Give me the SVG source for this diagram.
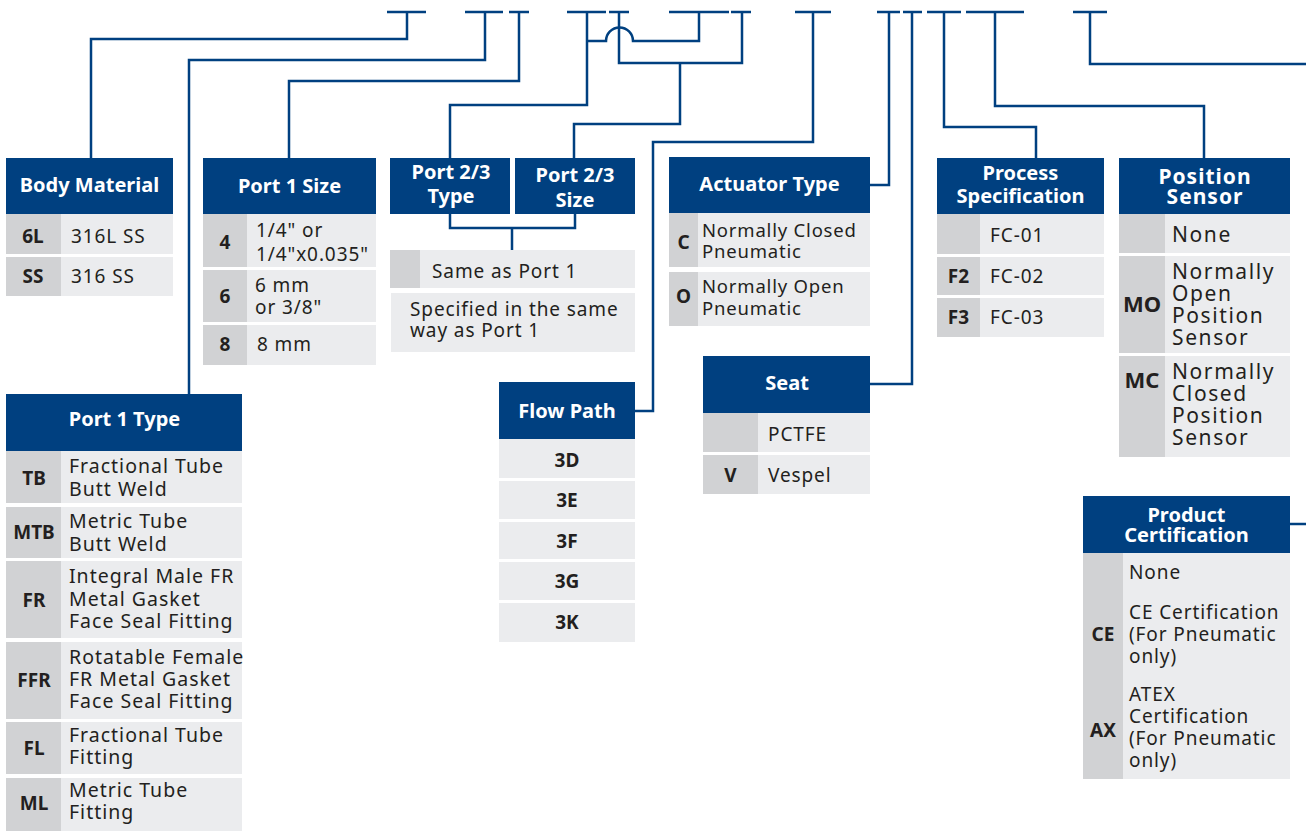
<svg xmlns="http://www.w3.org/2000/svg" width="1306" height="831" viewBox="0 0 1306 831">
<style>
.hd{fill:#004080}
.cd{fill:#D1D2D4}
.ds{fill:#EBECEE}
.ht{font-family:"Noto Sans","Open Sans",sans-serif;font-weight:bold;font-size:20px;fill:#fff;text-anchor:middle}
.c{font-family:"Noto Sans","Open Sans",sans-serif;font-weight:bold;font-size:19px;fill:#231F20;text-anchor:middle}
.t{font-family:"Noto Sans","Open Sans",sans-serif;font-size:19px;letter-spacing:0.9px;fill:#231F20}
.t2{font-family:"Noto Sans","Open Sans",sans-serif;font-size:19.5px;letter-spacing:1px;fill:#231F20}
.t3{font-family:"Noto Sans","Open Sans",sans-serif;font-size:21px;letter-spacing:1.6px;fill:#231F20}
.ln{fill:none;stroke:#004080;stroke-width:2.5}
</style>
<rect width="1306" height="831" fill="#fff"/>
<g id="connectors" class="ln">
<path d="M387,12H426M407,12V39H91V158"/>
<path d="M465,12H503M485,12V60H189V394"/>
<path d="M509,12H529M519,12V81H289V158"/>
<path d="M567,12H606M587,12V105H450V158"/>
<path d="M609,12H629M619,12V63H742V12M731,12H751"/>
<path d="M680,63V124H574V158"/>
<path d="M587,41H606A13.5,13.5 0 0 1 633,41H699V12M669,12H729"/>
<path d="M795,12H831M813,12V142H653V411H635"/>
<path d="M877,12H900M889,12V185H870"/>
<path d="M903,12H922M912,12V384H870"/>
<path d="M927,12H961M944,12V127H1036V158"/>
<path d="M966,12H1024M995,12V106H1204V158"/>
<path d="M1073,12H1107M1090,12V64H1306"/>
<path d="M1290,524H1306"/>
<path d="M450,214V228H575V214M512,228V250"/>
</g>
<g id="body-material">
<rect class="hd" x="6" y="158" width="167" height="56"/>
<text class="ht" x="89.5" y="192">Body Material</text>
<rect class="cd" x="6" y="214" width="55" height="40"/><rect class="ds" x="61" y="214" width="112" height="40"/>
<rect class="cd" x="6" y="257" width="55" height="39"/><rect class="ds" x="61" y="257" width="112" height="39"/>
<text class="c" x="33" y="243">6L</text><text class="t" x="71" y="243">316L SS</text>
<text class="c" x="33" y="283">SS</text><text class="t" x="71" y="283">316 SS</text>
</g>
<g id="port1-size">
<rect class="hd" x="203" y="158" width="173" height="56"/>
<text class="ht" x="289.5" y="193">Port 1 Size</text>
<rect class="cd" x="203" y="214" width="44" height="53"/><rect class="ds" x="247" y="214" width="129" height="53"/>
<rect class="cd" x="203" y="270" width="44" height="52"/><rect class="ds" x="247" y="270" width="129" height="52"/>
<rect class="cd" x="203" y="325" width="44" height="40"/><rect class="ds" x="247" y="325" width="129" height="40"/>
<text class="c" x="225" y="249">4</text><text class="t" x="256" y="237">1/4" or</text><text class="t" x="256" y="261">1/4"x0.035"</text>
<text class="c" x="225" y="303">6</text><text class="t" x="255" y="292">6 mm</text><text class="t" x="255" y="314">or 3/8"</text>
<text class="c" x="225" y="351">8</text><text class="t" x="257" y="351">8 mm</text>
</g>
<g id="port23">
<rect class="hd" x="390" y="158" width="120" height="56"/>
<text class="ht" x="451" y="179">Port 2/3</text><text class="ht" x="451" y="203">Type</text>
<rect class="hd" x="515" y="158" width="120" height="56"/>
<text class="ht" x="575" y="182">Port 2/3</text><text class="ht" x="575" y="207">Size</text>
<rect class="cd" x="390" y="250" width="30" height="38"/><rect class="ds" x="420" y="250" width="215" height="38"/>
<rect class="ds" x="391" y="293" width="244" height="59"/>
<text class="t" x="432" y="278">Same as Port 1</text>
<text class="t" x="410" y="316">Specified in the same</text><text class="t" x="410" y="337">way as Port 1</text>
</g>
<g id="actuator-type">
<rect class="hd" x="669" y="157" width="201" height="56"/>
<text class="ht" x="769.5" y="191">Actuator Type</text>
<rect class="cd" x="669" y="213" width="29" height="54"/><rect class="ds" x="698" y="213" width="172" height="54"/>
<rect class="cd" x="669" y="272" width="29" height="54"/><rect class="ds" x="698" y="272" width="172" height="54"/>
<text class="c" x="683.5" y="249">C</text><text class="t" x="702" y="237" style="font-size:18.5px;letter-spacing:0.8px">Normally Closed</text><text class="t" x="702" y="258" style="font-size:18.5px;letter-spacing:0.8px">Pneumatic</text>
<text class="c" x="683.5" y="303">O</text><text class="t" x="702" y="293" style="font-size:18.5px;letter-spacing:0.8px">Normally Open</text><text class="t" x="702" y="315" style="font-size:18.5px;letter-spacing:0.8px">Pneumatic</text>
</g>
<g id="seat">
<rect class="hd" x="703" y="356" width="167" height="57"/>
<text class="ht" x="787" y="390">Seat</text>
<rect class="cd" x="703" y="413" width="55" height="39"/><rect class="ds" x="758" y="413" width="112" height="39"/>
<rect class="cd" x="703" y="455" width="55" height="39"/><rect class="ds" x="758" y="455" width="112" height="39"/>
<text class="t" x="768" y="441">PCTFE</text>
<text class="c" x="730.5" y="482">V</text><text class="t" x="768" y="482">Vespel</text>
</g>
<g id="flow-path">
<rect class="hd" x="499" y="382" width="136" height="57"/>
<text class="ht" x="567" y="418">Flow Path</text>
<rect class="ds" x="499" y="439" width="136" height="39"/>
<rect class="ds" x="499" y="481" width="136" height="38"/>
<rect class="ds" x="499" y="522" width="136" height="37"/>
<rect class="ds" x="499" y="562" width="136" height="38"/>
<rect class="ds" x="499" y="603" width="136" height="39"/>
<text class="c" x="567" y="467">3D</text>
<text class="c" x="567" y="507">3E</text>
<text class="c" x="567" y="548">3F</text>
<text class="c" x="567" y="588">3G</text>
<text class="c" x="567" y="629">3K</text>
</g>
<g id="process-specification">
<rect class="hd" x="937" y="158" width="167" height="56"/>
<text class="ht" x="1020.5" y="180">Process</text><text class="ht" x="1020.5" y="203">Specification</text>
<rect class="cd" x="937" y="214" width="43" height="40"/><rect class="ds" x="980" y="214" width="124" height="40"/>
<rect class="cd" x="937" y="257" width="43" height="38"/><rect class="ds" x="980" y="257" width="124" height="38"/>
<rect class="cd" x="937" y="298" width="43" height="39"/><rect class="ds" x="980" y="298" width="124" height="39"/>
<text class="t" x="990" y="242">FC-01</text>
<text class="c" x="958.5" y="283">F2</text><text class="t" x="990" y="283">FC-02</text>
<text class="c" x="958.5" y="324">F3</text><text class="t" x="990" y="324">FC-03</text>
</g>
<g id="position-sensor">
<rect class="hd" x="1119" y="158" width="171" height="56"/>
<text class="ht" x="1205" y="184" style="font-size:21px;letter-spacing:1px">Position</text><text class="ht" x="1205" y="204" style="font-size:21px;letter-spacing:1px">Sensor</text>
<rect class="cd" x="1119" y="214" width="46" height="39"/><rect class="ds" x="1165" y="214" width="125" height="39"/>
<rect class="cd" x="1119" y="256" width="46" height="97"/><rect class="ds" x="1165" y="256" width="125" height="97"/>
<rect class="cd" x="1119" y="356" width="46" height="101"/><rect class="ds" x="1165" y="356" width="125" height="101"/>
<text class="t3" x="1172" y="242">None</text>
<text class="c" x="1142" y="312" style="font-size:22px">MO</text>
<text class="t3" x="1172" y="279">Normally</text><text class="t3" x="1172" y="301">Open</text><text class="t3" x="1172" y="323">Position</text><text class="t3" x="1172" y="345">Sensor</text>
<text class="c" x="1142" y="388" style="font-size:22px">MC</text>
<text class="t3" x="1172" y="379">Normally</text><text class="t3" x="1172" y="401">Closed</text><text class="t3" x="1172" y="423">Position</text><text class="t3" x="1172" y="445">Sensor</text>
</g>
<g id="product-certification">
<rect class="hd" x="1083" y="496" width="207" height="57"/>
<text class="ht" x="1186.5" y="522">Product</text><text class="ht" x="1186.5" y="542">Certification</text>
<rect class="cd" x="1083" y="553" width="40" height="226"/><rect class="ds" x="1123" y="553" width="167" height="226"/>
<text class="t" x="1129" y="579">None</text>
<text class="c" x="1103" y="641">CE</text>
<text class="t" x="1129" y="619">CE Certification</text><text class="t" x="1129" y="641">(For Pneumatic</text><text class="t" x="1129" y="663">only)</text>
<text class="c" x="1103" y="737">AX</text>
<text class="t" x="1129" y="701">ATEX</text><text class="t" x="1129" y="723">Certification</text><text class="t" x="1129" y="745">(For Pneumatic</text><text class="t" x="1129" y="767">only)</text>
</g>
<g id="port1-type">
<rect class="hd" x="6" y="394" width="236" height="57"/>
<text class="ht" x="124.5" y="426">Port 1 Type</text>
<rect class="cd" x="6" y="451" width="55" height="52"/><rect class="ds" x="61" y="451" width="181" height="52"/>
<rect class="cd" x="6" y="507" width="55" height="51"/><rect class="ds" x="61" y="507" width="181" height="51"/>
<rect class="cd" x="6" y="561" width="55" height="77"/><rect class="ds" x="61" y="561" width="181" height="77"/>
<rect class="cd" x="6" y="642" width="55" height="77"/><rect class="ds" x="61" y="642" width="181" height="77"/>
<rect class="cd" x="6" y="722" width="55" height="52"/><rect class="ds" x="61" y="722" width="181" height="52"/>
<rect class="cd" x="6" y="778" width="55" height="53"/><rect class="ds" x="61" y="778" width="181" height="53"/>
<text class="c" x="34" y="485">TB</text><text class="t2" x="69" y="473">Fractional Tube</text><text class="t2" x="69" y="496">Butt Weld</text>
<text class="c" x="34" y="539">MTB</text><text class="t2" x="69" y="528">Metric Tube</text><text class="t2" x="69" y="551">Butt Weld</text>
<text class="c" x="34" y="607">FR</text><text class="t2" x="69" y="583">Integral Male FR</text><text class="t2" x="69" y="606">Metal Gasket</text><text class="t2" x="69" y="628">Face Seal Fitting</text>
<text class="c" x="34" y="687">FFR</text><text class="t2" x="69" y="664">Rotatable Female</text><text class="t2" x="69" y="686">FR Metal Gasket</text><text class="t2" x="69" y="708">Face Seal Fitting</text>
<text class="c" x="34" y="755">FL</text><text class="t2" x="69" y="742">Fractional Tube</text><text class="t2" x="69" y="764">Fitting</text>
<text class="c" x="34" y="810">ML</text><text class="t2" x="69" y="797">Metric Tube</text><text class="t2" x="69" y="819">Fitting</text>
</g>
</svg>
